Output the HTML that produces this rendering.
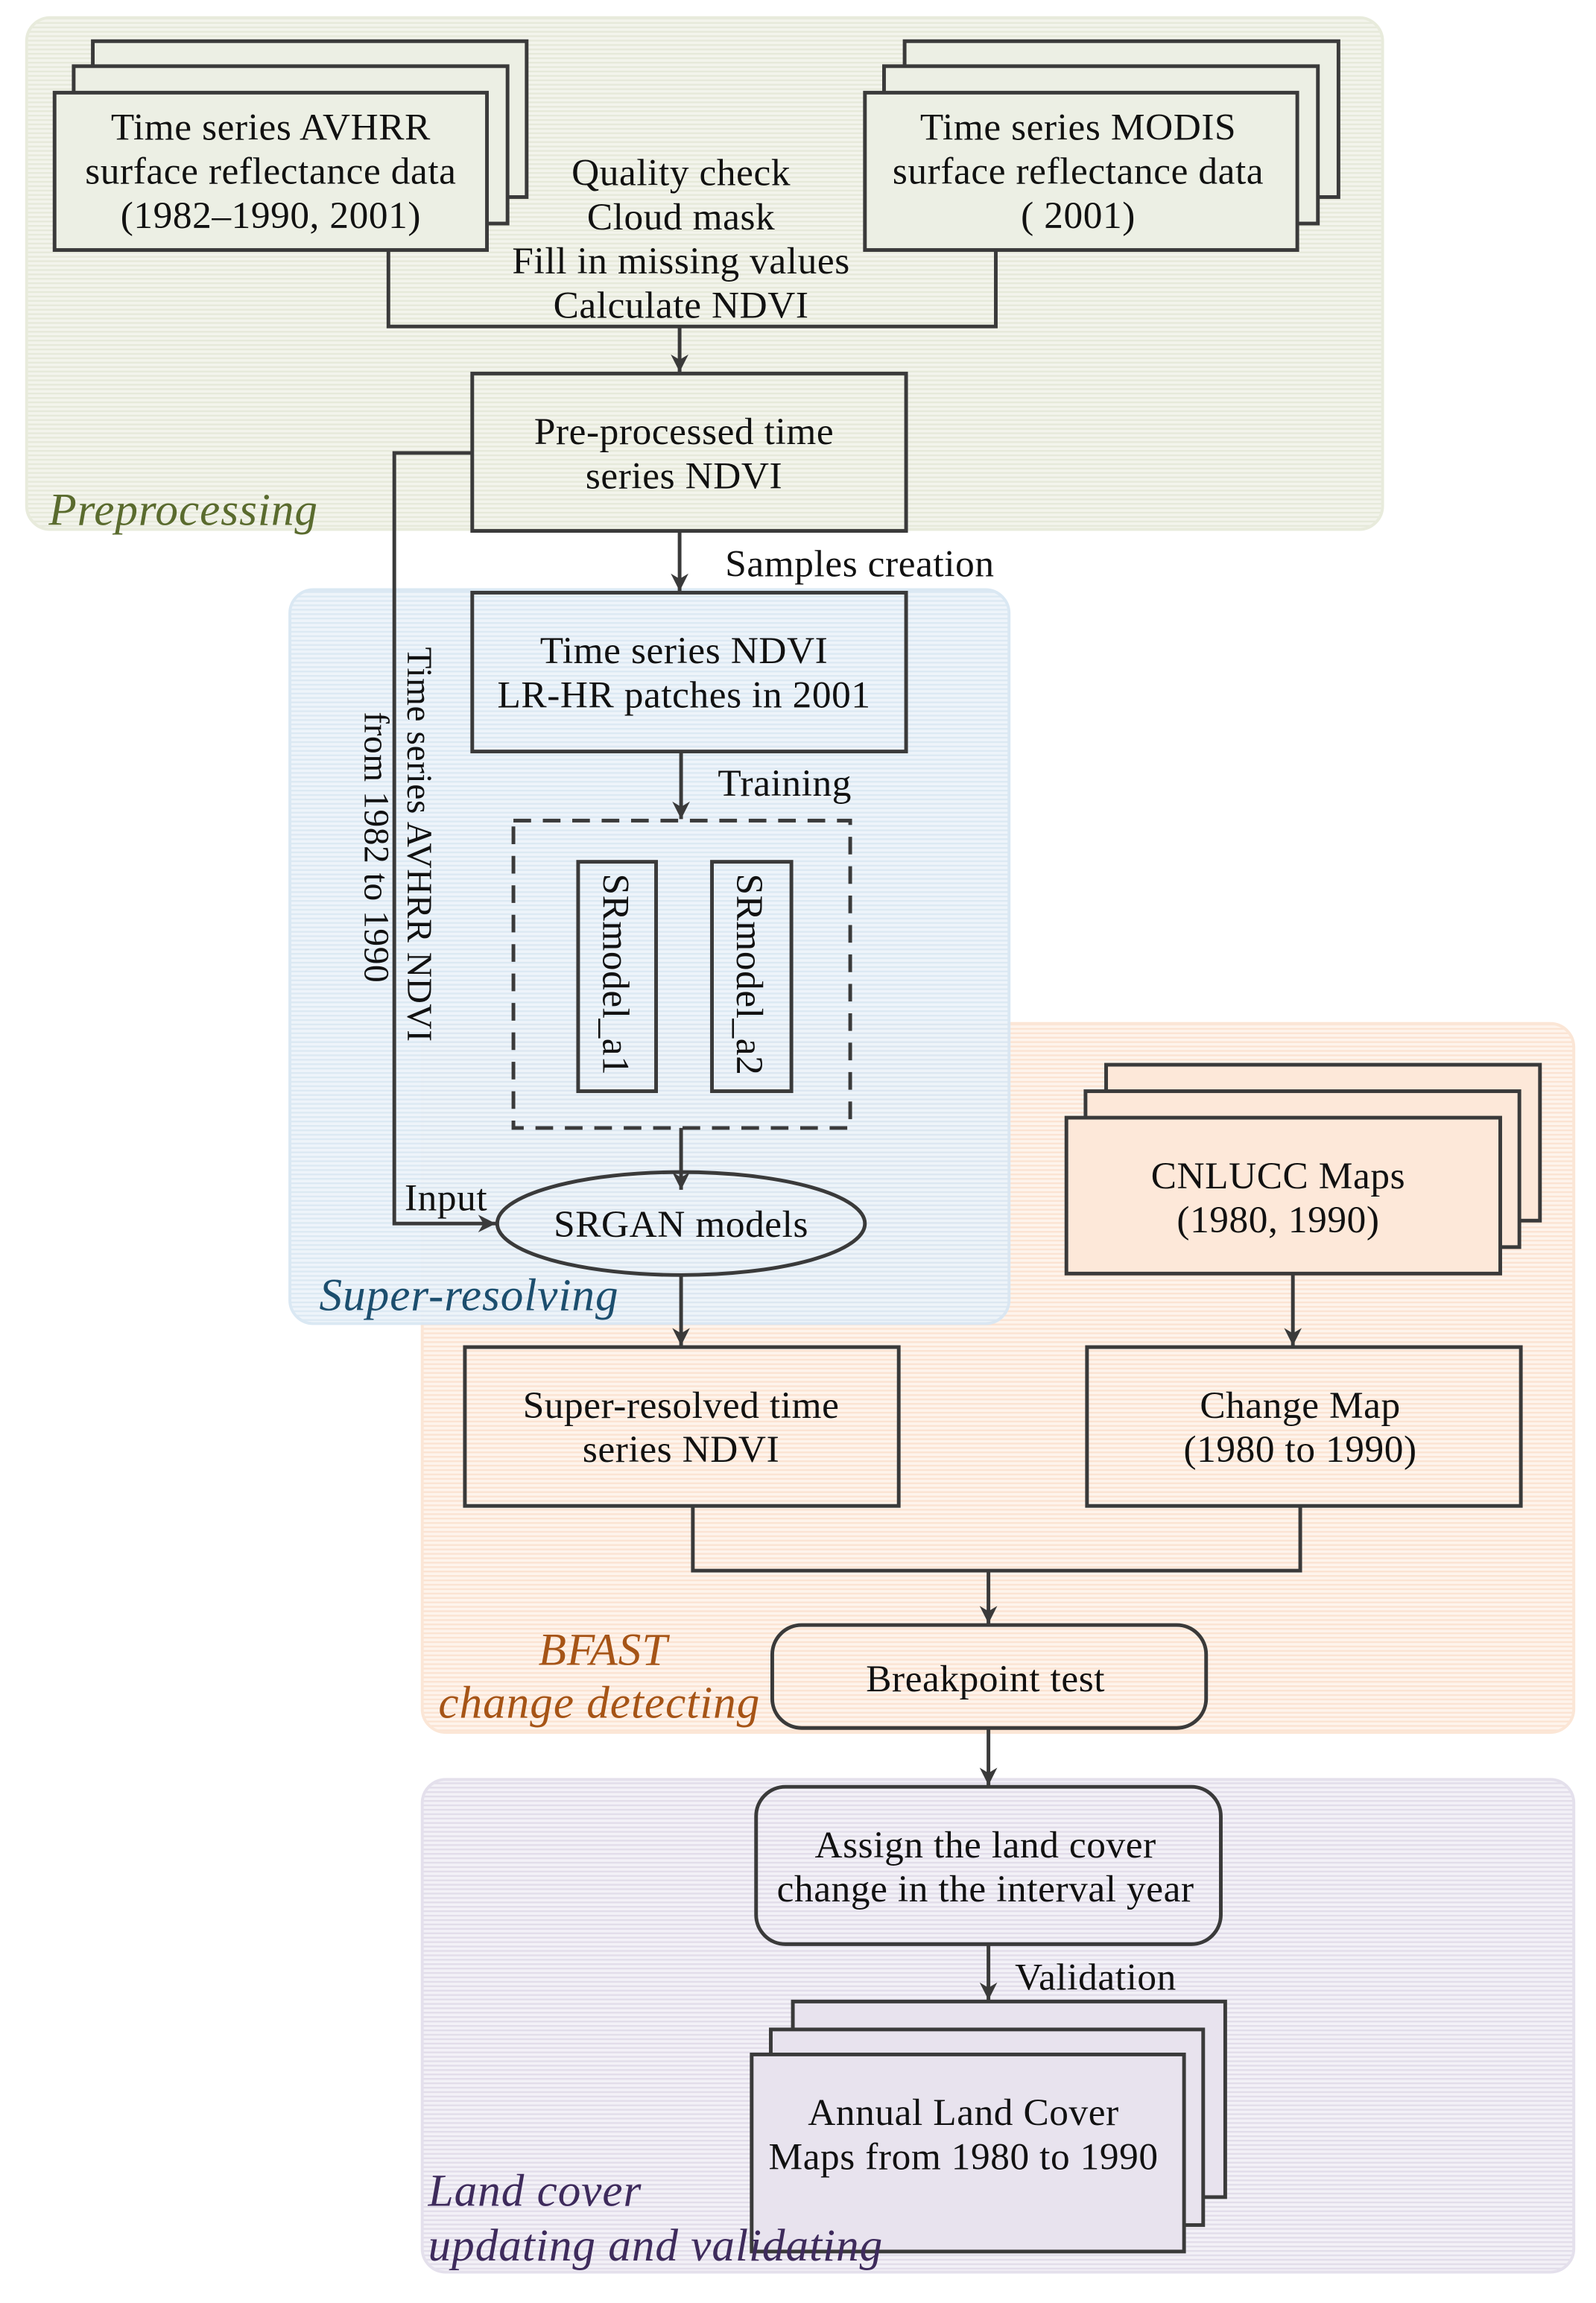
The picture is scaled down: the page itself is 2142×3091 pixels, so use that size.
<!DOCTYPE html>
<html><head><meta charset="utf-8"><style>html,body{margin:0;padding:0;background:#fff}svg{display:block}</style></head>
<body>
<svg width="2142" height="3091" viewBox="0 0 1085 1566" xmlns="http://www.w3.org/2000/svg" font-family="'Liberation Serif', serif">
<defs>
<pattern id="pg" width="4" height="3" patternUnits="userSpaceOnUse"><rect width="4" height="3" fill="#f3f4ec"/><rect y="0" width="4" height="1.2" fill="#e6e9da"/></pattern>
<pattern id="pb" width="4" height="3" patternUnits="userSpaceOnUse"><rect width="4" height="3" fill="#eef4fa"/><rect y="0" width="4" height="1.2" fill="#dbe8f3"/></pattern>
<pattern id="po" width="4" height="3" patternUnits="userSpaceOnUse"><rect width="4" height="3" fill="#fef4ec"/><rect y="0" width="4" height="1.2" fill="#fbe3d2"/></pattern>
<pattern id="pp" width="4" height="3" patternUnits="userSpaceOnUse"><rect width="4" height="3" fill="#f3f1f7"/><rect y="0" width="4" height="1.2" fill="#e2ddea"/></pattern>
<marker id="ar" viewBox="0 0 10 10" refX="10" refY="5" markerWidth="12" markerHeight="13" markerUnits="userSpaceOnUse" orient="auto"><path d="M0,0 L10,5 L0,10 L3,5 Z" fill="#3a3a3a"/></marker>
</defs>
<rect x="18" y="12" width="922" height="348" rx="16" fill="url(#pg)" stroke="#e8ebdc" stroke-width="2"/>
<rect x="287" y="696" width="783" height="482" rx="16" fill="url(#po)" stroke="#fbe6d6" stroke-width="2"/>
<rect x="197" y="401" width="489" height="499" rx="16" fill="url(#pb)" stroke="#d9e7f3" stroke-width="2" opacity="0.95"/>
<rect x="287" y="1210" width="783" height="335" rx="16" fill="url(#pp)" stroke="#e4e0ec" stroke-width="2"/>

<g stroke="#3a3a3a" stroke-width="2.5" fill="none">
<rect x="63" y="28" width="295" height="106" fill="#ecefe4"/>
<rect x="50" y="45" width="295" height="107" fill="#ecefe4"/>
<rect x="37" y="63" width="294" height="107" fill="#ecefe4"/>
<rect x="615" y="28" width="295" height="106" fill="#ecefe4"/>
<rect x="601" y="45" width="295" height="107" fill="#ecefe4"/>
<rect x="588" y="63" width="294" height="107" fill="#ecefe4"/>
<path d="M264,170 V222 H677 V170"/>
<path d="M462,222 V253" marker-end="url(#ar)"/>
<rect x="321" y="254" width="295" height="107"/>
<path d="M462,361 V402" marker-end="url(#ar)"/>
<rect x="321" y="403" width="295" height="108"/>
<path d="M463,511 V557" marker-end="url(#ar)"/>
<rect x="349" y="558" width="229" height="209" stroke-dasharray="12,8"/>
<rect x="393" y="586" width="53" height="156"/>
<rect x="484" y="586" width="54" height="156"/>
<path d="M463,767 V809" marker-end="url(#ar)"/>
<ellipse cx="463" cy="832" rx="125" ry="35"/>
<path d="M321,308 H268 V832 H337" marker-end="url(#ar)"/>
<path d="M463,867 V915" marker-end="url(#ar)"/>
<rect x="316" y="916" width="295" height="108"/>
<rect x="752" y="724" width="295" height="106" fill="#fde8d9"/>
<rect x="738" y="742" width="295" height="106" fill="#fde8d9"/>
<rect x="725" y="760" width="295" height="106" fill="#fde8d9"/>
<path d="M879,866 V915" marker-end="url(#ar)"/>
<rect x="739" y="916" width="295" height="108"/>
<path d="M471,1024 V1068 H884 V1024"/>
<path d="M672,1068 V1104" marker-end="url(#ar)"/>
<rect x="525" y="1105" width="295" height="70" rx="20"/>
<path d="M672,1175 V1214" marker-end="url(#ar)"/>
<rect x="514" y="1215" width="316" height="107" rx="20"/>
<path d="M672,1322 V1360" marker-end="url(#ar)"/>
<rect x="539" y="1361" width="294" height="133" fill="#e8e3ee"/>
<rect x="524" y="1380" width="294" height="133" fill="#e8e3ee"/>
<rect x="511" y="1397" width="294" height="134" fill="#e8e3ee"/>
</g>

<g font-size="26" letter-spacing="0.3" fill="#111" text-anchor="middle">
<text x="184" y="95">Time series AVHRR</text>
<text x="184" y="125">surface reflectance data</text>
<text x="184" y="155">(1982–1990, 2001)</text>
<text x="733" y="95">Time series MODIS</text>
<text x="733" y="125">surface reflectance data</text>
<text x="733" y="155">( 2001)</text>
<text x="463" y="126">Quality check</text>
<text x="463" y="156">Cloud mask</text>
<text x="463" y="186">Fill in missing values</text>
<text x="463" y="216">Calculate NDVI</text>
<text x="465" y="302">Pre-processed time</text>
<text x="465" y="332">series NDVI</text>
<text x="465" y="451">Time series NDVI</text>
<text x="465" y="481">LR-HR patches in 2001</text>
<text x="463" y="841">SRGAN models</text>
<text x="463" y="964">Super-resolved time</text>
<text x="463" y="994">series NDVI</text>
<text x="869" y="808">CNLUCC Maps</text>
<text x="869" y="838">(1980, 1990)</text>
<text x="884" y="964">Change Map</text>
<text x="884" y="994">(1980 to 1990)</text>
<text x="670" y="1150">Breakpoint test</text>
<text x="670" y="1263">Assign the land cover</text>
<text x="670" y="1293">change in the interval year</text>
<text x="655" y="1445">Annual Land Cover</text>
<text x="655" y="1475">Maps from 1980 to 1990</text>
</g>
<g font-size="26" letter-spacing="0.3" fill="#111">
<text x="493" y="392">Samples creation</text>
<text x="488" y="541">Training</text>
<text x="275" y="823">Input</text>
<text x="690" y="1353">Validation</text>
<text transform="translate(410,594) rotate(90)">SRmodel_a1</text>
<text transform="translate(501,594) rotate(90)">SRmodel_a2</text>
<text font-size="24" transform="translate(277,440) rotate(90)">Time series AVHRR NDVI</text>
<text font-size="24" transform="translate(248,484) rotate(90)">from 1982 to 1990</text>
</g>
<g font-size="31" font-style="italic" letter-spacing="0.5">
<text x="33" y="357" fill="#5a6b2e">Preprocessing</text>
<text x="217" y="891" fill="#1c4e6e">Super-resolving</text>
<text x="410" y="1132" fill="#a65416" text-anchor="middle">BFAST</text>
<text x="298" y="1168" fill="#a65416">change detecting</text>
<text x="291" y="1500" fill="#3e2b5c">Land cover</text>
<text x="291" y="1537" fill="#3e2b5c">updating and validating</text>
</g>
</svg>
</body></html>
